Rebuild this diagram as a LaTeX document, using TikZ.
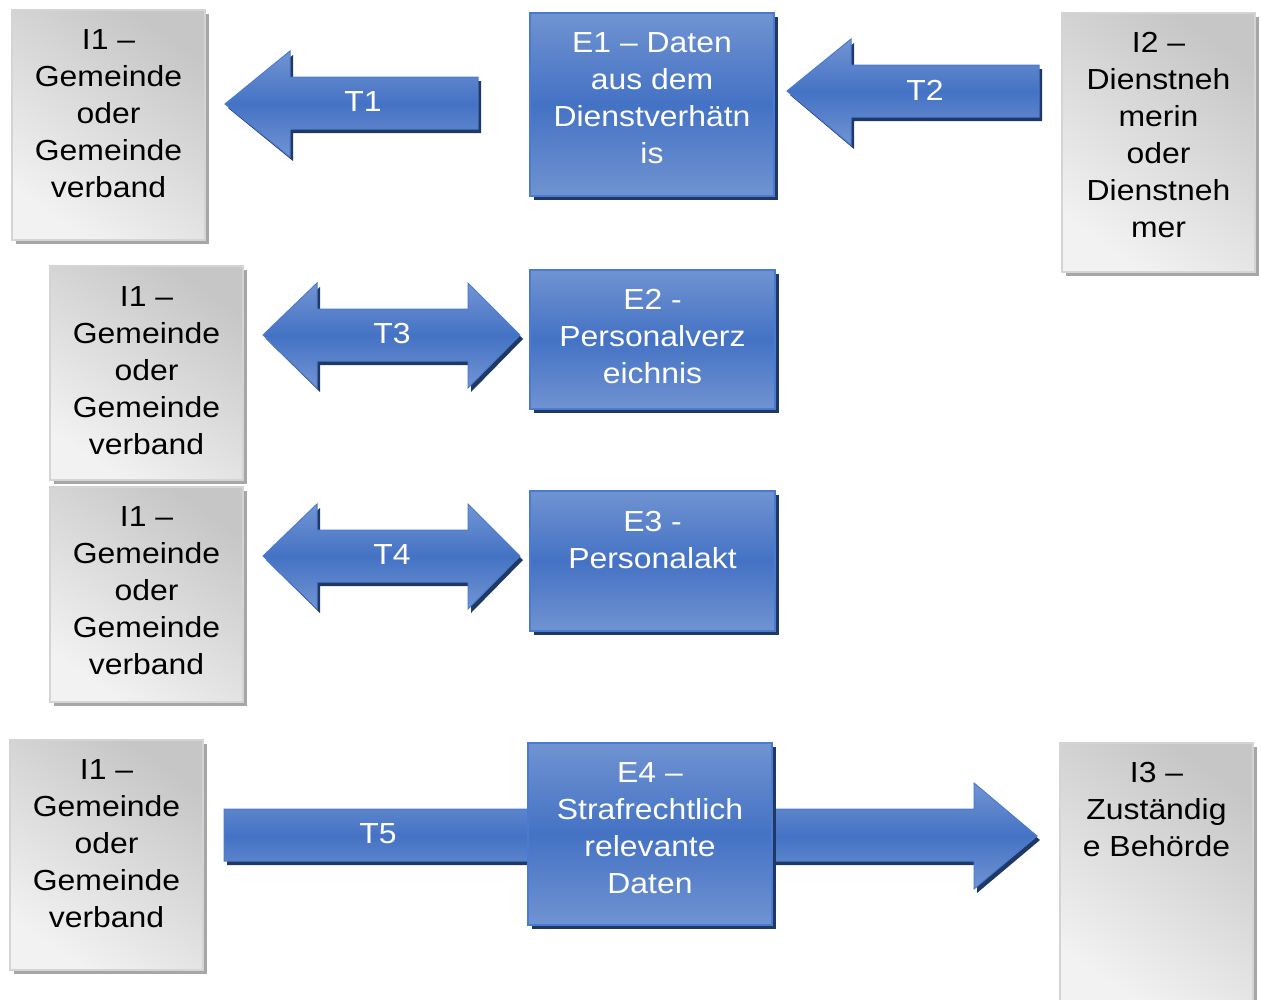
\documentclass[tikz,border=0pt]{standalone}
\usepackage{fontspec}
\setmainfont{Liberation Sans}[FakeStretch=1.1]
\usetikzlibrary{shadows}
\definecolor{graydark}{HTML}{C6C6C6}
\definecolor{graylight}{HTML}{F2F2F2}
\definecolor{grayborder}{HTML}{D4D4D4}
\definecolor{grayshadow}{HTML}{A6A6A6}
\definecolor{bluelight}{HTML}{8EAADB}
\definecolor{bluemid}{HTML}{4472C4}
\definecolor{blueborder}{HTML}{4A7BD2}
\definecolor{blueshadow}{HTML}{1F3864}
\pgfdeclareverticalshading{bluev}{100bp}{color(0bp)=(bluelight); color(8bp)=(bluelight); color(50bp)=(bluemid); color(92bp)=(bluelight); color(100bp)=(bluelight)}
\pgfdeclareverticalshading{bluearr}{100bp}{color(0bp)=(bluelight); color(22bp)=(bluelight!70!bluemid); color(50bp)=(bluemid); color(78bp)=(bluelight!70!bluemid); color(100bp)=(bluelight)}
\newcommand\bigfnt{\fontsize{29}{37}\selectfont}
\tikzset{
  graybox/.style={rectangle, inner sep=0pt, draw=grayborder, line width=1.5pt,
    top color=graydark, bottom color=graylight, shading angle=-35,
    drop shadow={shadow xshift=4pt, shadow yshift=-4pt, fill=grayshadow, opacity=1}},
  bluebox/.style={rectangle, inner sep=0pt, draw=blueborder, line width=1.5pt,
    shade, shading=bluev,
    drop shadow={shadow xshift=4pt, shadow yshift=-4pt, fill=blueshadow, opacity=1}},
  bluearrow/.style={draw=blueborder, line width=1pt, line join=miter,
    shade, shading=bluearr,
    drop shadow={shadow xshift=3pt, shadow yshift=-4pt, fill=blueshadow, opacity=1}},
  blacktext/.style={anchor=north, align=center, inner sep=0pt, font=\bigfnt, text=black},
  whitetext/.style={anchor=north, align=center, inner sep=0pt, font=\bigfnt, text=white},
  arrowlabel/.style={inner sep=0pt, font=\bigfnt, text=white},
}
\begin{document}
\begin{tikzpicture}[x=1pt, y=-1pt]
\useasboundingbox (0,0) rectangle (1261,999);
% gray boxes
\node[graybox, minimum width=193pt, minimum height=230pt] (ia) at (108.5,125) {};
\node[graybox, minimum width=193pt, minimum height=214pt] (ib) at (146.5,373) {};
\node[graybox, minimum width=193pt, minimum height=215pt] (ic) at (146.5,594.5) {};
\node[graybox, minimum width=193pt, minimum height=230pt] (id) at (106.5,855) {};
\node[graybox, minimum width=193pt, minimum height=259pt] (itwo) at (1158.5,142.5) {};
\node[graybox, minimum width=193pt, minimum height=262pt] (ithree) at (1156.5,874) {};
% arrows
\path[bluearrow] (225,104) -- (290,51) -- (290,77) -- (478,77) -- (478,129) -- (290,129) -- (290,157) -- cycle;
\node[arrowlabel] (tone) at (363,102) {T1};
\path[bluearrow] (787,91) -- (851,39) -- (851,65) -- (1039,65) -- (1039,117) -- (851,117) -- (851,145) -- cycle;
\node[arrowlabel] (ttwo) at (925,90) {T2};
\path[bluearrow] (263,335) -- (317,283) -- (317,309) -- (468,309) -- (468,283) -- (520,335) -- (468,388) -- (468,361) -- (317,361) -- (317,388) -- cycle;
\node[arrowlabel] (tthree) at (392,334) {T3};
\path[bluearrow] (263,556) -- (317,504) -- (317,530) -- (468,530) -- (468,504) -- (520,556) -- (468,609) -- (468,582) -- (317,582) -- (317,609) -- cycle;
\node[arrowlabel] (tfour) at (392,555) {T4};
\path[bluearrow] (224,809) -- (974,809) -- (974,783) -- (1037,836) -- (974,889) -- (974,861) -- (224,861) -- cycle;
\node[arrowlabel] (tfive) at (378,834) {T5};
% blue boxes
\node[bluebox, minimum width=244pt, minimum height=183pt] (eone) at (652,104.5) {};
\node[bluebox, minimum width=245pt, minimum height=139pt] (etwo) at (652.5,339.5) {};
\node[bluebox, minimum width=245pt, minimum height=140pt] (ethree) at (652.5,561) {};
\node[bluebox, minimum width=244pt, minimum height=182pt] (efour) at (650,834) {};
% texts
\node[blacktext] (iatext) at (108.5,29) {I1 –\\Gemeinde\\oder\\Gemeinde\\verband};
\node[blacktext] (ibtext) at (146.5,286) {I1 –\\Gemeinde\\oder\\Gemeinde\\verband};
\node[blacktext] (ictext) at (146.5,506) {I1 –\\Gemeinde\\oder\\Gemeinde\\verband};
\node[blacktext] (idtext) at (106.5,759) {I1 –\\Gemeinde\\oder\\Gemeinde\\verband};
\node[blacktext] (itwotext) at (1158.5,32) {I2 –\\Dienstneh\\merin\\oder\\Dienstneh\\mer};
\node[blacktext] (ithreetext) at (1156.5,762) {I3 –\\Zuständig\\e Behörde};
\node[whitetext] (eonetext) at (652,32) {E1 – Daten\\aus dem\\Dienstverhätn\\is};
\node[whitetext] (etwotext) at (652.5,289) {E2 -\\Personalverz\\eichnis};
\node[whitetext] (ethreetext) at (652.5,511) {E3 -\\Personalakt};
\node[whitetext] (efourtext) at (650,762) {E4 –\\Strafrechtlich\\relevante\\Daten};
\end{tikzpicture}
\end{document}
